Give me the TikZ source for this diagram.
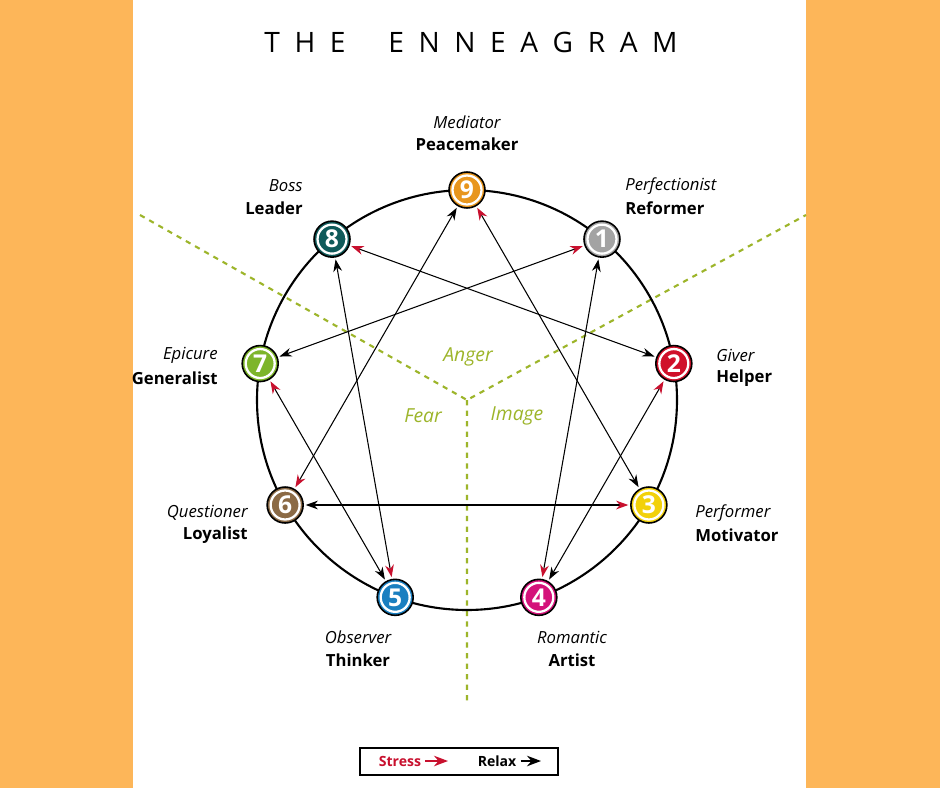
\documentclass[tikz,border=0pt]{standalone}
\usepackage{fontspec}
\setmainfont{Open Sans}
\usetikzlibrary{arrows.meta,calc}
\definecolor{bgorange}{HTML}{FDB659}
\definecolor{stressred}{HTML}{C8102E}
\definecolor{zonegreen}{HTML}{9DB52A}
\definecolor{c9}{HTML}{E8961E}
\definecolor{c8}{HTML}{0F5A5A}
\definecolor{c1}{HTML}{A3A3A3}
\definecolor{c2}{HTML}{D0102A}
\definecolor{c3}{HTML}{F2D10A}
\definecolor{c4}{HTML}{D4127A}
\definecolor{c5}{HTML}{1A7FC0}
\definecolor{c6}{HTML}{8B6A45}
\definecolor{c7}{HTML}{7DB52A}
\tikzset{
  typenode/.style={circle,draw=black,line width=0.9pt,fill=#1,minimum size=0.72cm,inner sep=0pt,
    text=white,font=\fontsize{14}{14}\selectfont\bfseries,
    path picture={\draw[white,line width=1.3pt] (path picture bounding box.center) circle (0.29cm);}},
  rolelabel/.style={font=\fontsize{9.5}{12}\selectfont\itshape,inner sep=0pt},
  namelabel/.style={font=\fontsize{9.5}{12}\selectfont\bfseries,inner sep=0pt},
  zone/.style={text=zonegreen,font=\fontsize{11}{13}\selectfont\itshape},
  move/.style={line width=0.6pt,shorten <=1pt,shorten >=1pt,
    {Stealth[length=7pt,width=5pt,black]}-{Stealth[length=7pt,width=5pt,stressred]}}
}
\begin{document}
\begin{tikzpicture}[x=0.02cm,y=-0.02cm]
  \fill[bgorange] (0,0) rectangle (940,788);
  \fill[white] (133,0) rectangle (806,788);
  \useasboundingbox (0,0) rectangle (940,788);
  \node (title) at (471,42) {\fontsize{16}{20}\selectfont T\ \ H\ \ E\quad\ \ E\ \ N\ \ N\ \ E\ \ A\ \ G\ \ R\ \ A\ \ M};
  % zones
  \coordinate (mid) at (467,400);
  \coordinate (zl) at (140,215);
  \coordinate (zr) at (806,215);
  \coordinate (zb) at (467,702);
  \draw[zonegreen,dashed,line width=1.2pt] (zl) -- (mid) -- (zr) (mid) -- (zb);
  \node[zone] (anger) at (468,357) {Anger};
  \node[zone] (fear) at (423,416) {Fear};
  \node[zone] (image) at (517,416) {Image};
  % circle and types
  \draw[line width=1.2pt] (mid) circle (210);
  \foreach \k/\c in {9/c9,8/c8,1/c1,2/c2,3/c3,4/c4,5/c5,6/c6,7/c7}
    \node[typenode=\c] (t\k) at ($(mid)+({90-40*\k}:210 and -210)$) {\k};
  % stress (red end) and relax (black end)
  \foreach \a/\b in {7/1,1/4,4/2,2/8,8/5,5/7,3/9,9/6,6/3}
    \draw[move] (t\a) -- (t\b);
  % labels
  \node[rolelabel] (r9) at (467,122) {Mediator};
  \node[namelabel] (n9) at (467,144) {Peacemaker};
  \node[rolelabel,anchor=east] (r8) at (303,186) {Boss};
  \node[namelabel,anchor=east] (n8) at (303,208) {Leader};
  \node[rolelabel,anchor=west] (r1) at (625,186) {Perfectionist};
  \node[namelabel,anchor=west] (n1) at (625,208) {Reformer};
  \node[rolelabel,anchor=east] (r7) at (218,355) {Epicure};
  \node[namelabel,anchor=east] (n7) at (218,378) {Generalist};
  \node[rolelabel,anchor=west] (r2) at (716,355) {Giver};
  \node[namelabel,anchor=west] (n2) at (716,378) {Helper};
  \node[rolelabel,anchor=east] (r6) at (248,513) {Questioner};
  \node[namelabel,anchor=east] (n6) at (248,535) {Loyalist};
  \node[rolelabel,anchor=west] (r3) at (695,513) {Performer};
  \node[namelabel,anchor=west] (n3) at (695,535) {Motivator};
  \node[rolelabel] (r5) at (358,637) {Observer};
  \node[namelabel] (n5) at (358,660) {Thinker};
  \node[rolelabel] (r4) at (572,637) {Romantic};
  \node[namelabel] (n4) at (572,660) {Artist};
  % legend
  \draw[line width=0.8pt] (360,748) rectangle (558,775);
  \node[namelabel,text=stressred,font=\fontsize{8}{10}\selectfont\bfseries] (ls) at (400,761) {Stress};
  \coordinate (ls2) at (448,761);
  \draw[stressred,line width=0.8pt,-{Stealth[length=8pt,width=6pt]}] (ls.east) ++(4,0) -- (ls2);
  \node[namelabel,font=\fontsize{8}{10}\selectfont\bfseries] (lr) at (497,761) {Relax};
  \coordinate (lr2) at (541,761);
  \draw[line width=0.8pt,-{Stealth[length=8pt,width=6pt]}] (lr.east) ++(4,0) -- (lr2);
\end{tikzpicture}
\end{document}
